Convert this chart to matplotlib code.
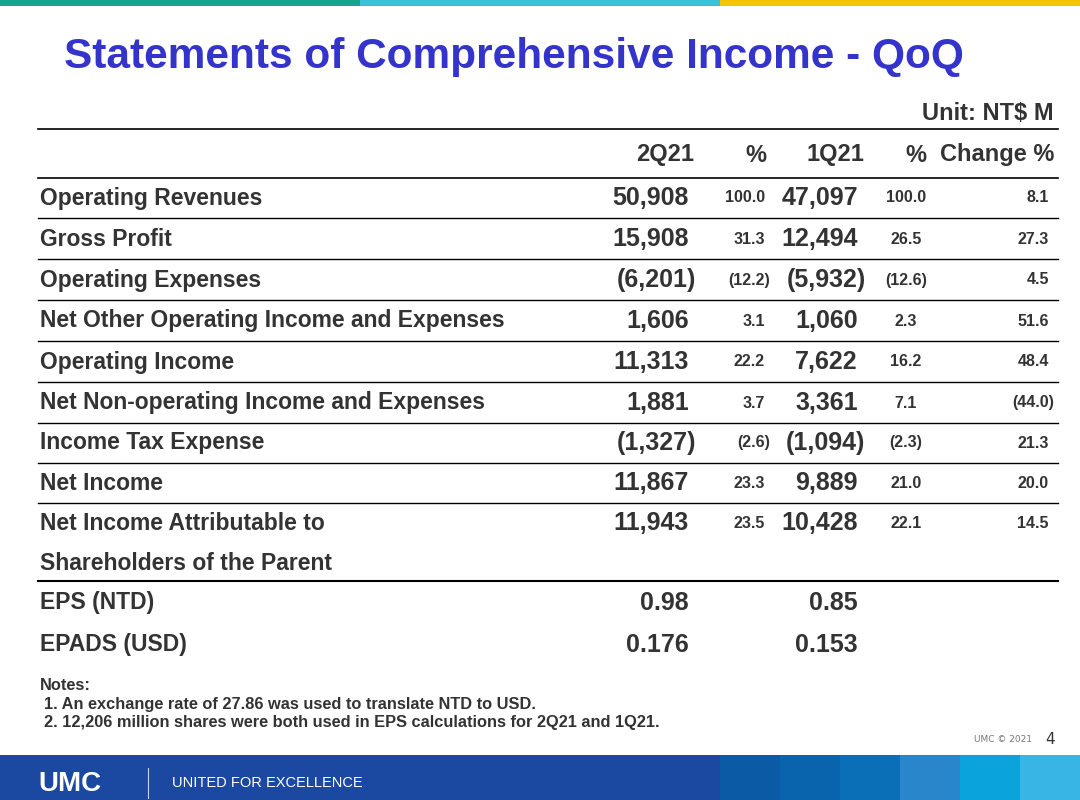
import matplotlib.pyplot as plt
from matplotlib import font_manager
from matplotlib.patches import Rectangle

names = {f.name for f in font_manager.fontManager.ttflist}
NARROW = 'Liberation Sans Narrow' if 'Liberation Sans Narrow' in names else 'Liberation Sans'

# ---- data ----
labels = ['Operating Revenues', 'Gross Profit', 'Operating Expenses',
          'Net Other Operating Income and Expenses', 'Operating Income',
          'Net Non-operating Income and Expenses', 'Income Tax Expense',
          'Net Income', 'Net Income Attributable to\nShareholders of the Parent']
q2 = ['50,908', '15,908', '(6,201)', '1,606', '11,313', '1,881', '(1,327)', '11,867', '11,943']
q2_pct = ['100.0', '31.3', '(12.2)', '3.1', '22.2', '3.7', '(2.6)', '23.3', '23.5']
q1 = ['47,097', '12,494', '(5,932)', '1,060', '7,622', '3,361', '(1,094)', '9,889', '10,428']
q1_pct = ['100.0', '26.5', '(12.6)', '2.3', '16.2', '7.1', '(2.3)', '21.0', '22.1']
change = ['8.1', '27.3', '4.5', '51.6', '48.4', '(44.0)', '21.3', '20.0', '14.5']
eps_labels = ['EPS (NTD)', 'EPADS (USD)']
eps_q2 = ['0.98', '0.176']
eps_q1 = ['0.85', '0.153']

fig = plt.figure(figsize=(10.8, 8), dpi=100)
ax = fig.add_axes([0, 0, 1, 1])
ax.set_xlim(0, 1080)
ax.set_ylim(800, 0)
ax.axis('off')

# top color bar
for x0, c in [(0, '#19a38e'), (360, '#3cc0d4'), (720, '#f6c400')]:
    ax.add_patch(Rectangle((x0, 0), 360, 6, color=c, lw=0))

ax.text(64, 57, 'Statements of Comprehensive Income - QoQ', fontsize=30.5, fontweight='bold',
        color='#3434cc', family='Liberation Sans', va='center')
ax.text(1054, 113, 'Unit: NT$ M', fontsize=17, fontweight='bold', color='#333333',
        family=NARROW, ha='right', va='center')

txt = dict(fontweight='bold', color='#333333', family=NARROW, va='center')
big = 18
small = 11.5
lab = 16.5


def rnum(x, y, s, size):
    # parentheses hang to the right of the column edge
    off = (size * 0.42) if s.startswith('(') else 0
    ax.text(x + off, y, s, fontsize=size, ha='right', **txt)


# header
hy = 155
for x, s in [(694, '2Q21'), (766, '%'), (864, '1Q21'), (926, '%'), (1054, 'Change %')]:
    ax.text(x, hy, s, fontsize=17, ha='right', **txt)

ax.plot([38, 1058], [129, 129], color='black', lw=1.2)
ax.plot([38, 1058], [178, 178], color='black', lw=1.2)

row_y = [198, 239, 280, 321, 362, 403, 443, 483, 523]
for i, y in enumerate(row_y):
    if i < len(labels) - 1:
        ax.text(40, y, labels[i], fontsize=lab, ha='left', **txt)
        ax.plot([38, 1058], [y + 20, y + 20], color='black', lw=1)
    else:
        a, b = labels[i].split('\n')
        ax.text(40, y, a, fontsize=lab, ha='left', **txt)
        ax.text(40, y + 40, b, fontsize=lab, ha='left', **txt)
    rnum(689, y, q2[i], big)
    rnum(765, y, q2_pct[i], small)
    rnum(858, y, q1[i], big)
    ax.text(906, y, q1_pct[i], fontsize=small, ha='center', **txt)
    rnum(1049, y, change[i], small)

ax.plot([38, 1058], [581, 581], color='black', lw=1.5)
for j, y in enumerate([603, 645]):
    ax.text(40, y, eps_labels[j], fontsize=lab, ha='left', **txt)
    ax.text(689, y, eps_q2[j], fontsize=big, ha='right', **txt)
    ax.text(858, y, eps_q1[j], fontsize=big, ha='right', **txt)

notes = dict(fontsize=11.8, fontweight='bold', color='#333333', family='Liberation Sans', va='center')
ax.text(40, 685, 'Notes:', **notes)
ax.text(44, 704, '1. An exchange rate of 27.86 was used to translate NTD to USD.', **notes)
ax.text(44, 722, '2. 12,206 million shares were both used in EPS calculations for 2Q21 and 1Q21.', **notes)
ax.text(1032, 740, 'UMC \u00a9 2021', fontsize=6.5, color='#777777', ha='right', va='center')
ax.text(1050, 739, '4', fontsize=11, color='#333333', ha='center', va='center')

# bottom banner
ax.add_patch(Rectangle((0, 755), 1080, 45, color='#1b48a0', lw=0))
for k, c in enumerate(['#0b5aa6', '#0a63ad', '#0b6fb8', '#2a86ca', '#0aa3dc', '#38b4e5']):
    ax.add_patch(Rectangle((720 + 60 * k, 755), 60, 45, color=c, lw=0))
ax.text(38, 784, 'UMC', fontsize=20, fontweight='heavy', color='white', family='Liberation Sans',
        va='center')
ax.plot([148, 148], [768, 798], color='#c8d2ea', lw=0.8)
ax.text(172, 783, 'UNITED FOR EXCELLENCE', fontsize=10.5, color='white', family='Liberation Sans',
        va='center')

fig.savefig('out.png', dpi=100)
